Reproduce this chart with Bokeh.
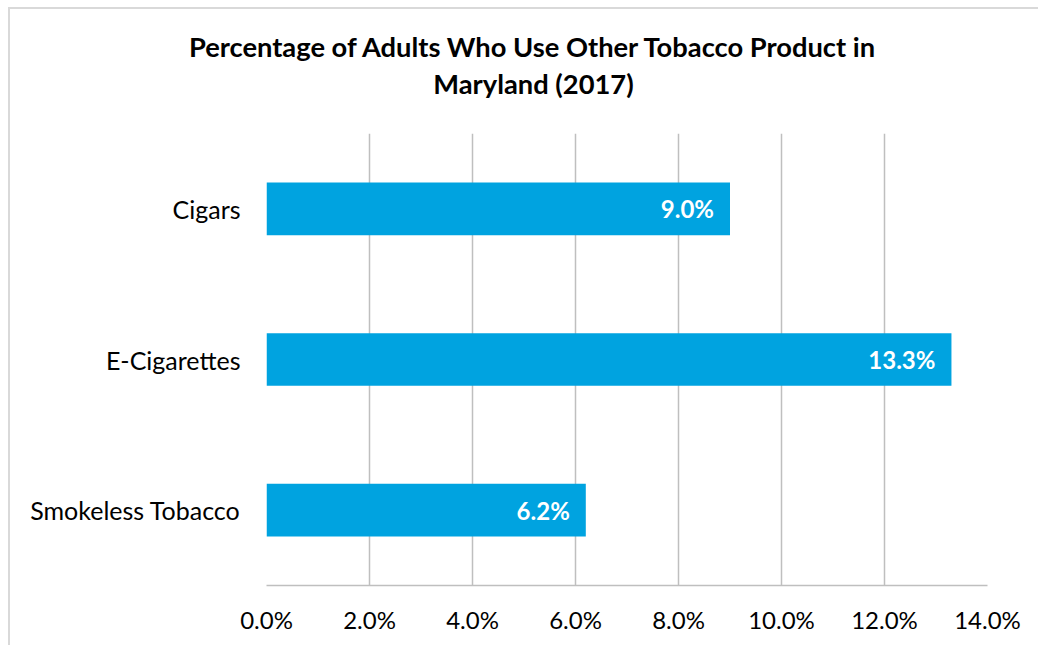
from bokeh.plotting import figure
from bokeh.layouts import column
from bokeh.models import ColumnDataSource, PrintfTickFormatter, FixedTicker, Range1d
from bokeh.core.properties import value
from bokeh.embed import file_html
from bokeh.resources import INLINE

categories = ["Smokeless Tobacco", "E-Cigarettes", "Cigars"]
percentages = [6.2, 13.3, 9.0]
labels = ["6.2%", "13.3%", "9.0%"]
x_ticks = [0, 2, 4, 6, 8, 10, 12, 14]
title_lines = ["Percentage of Adults Who Use Other Tobacco Product in", "Maryland (2017)"]

FONT = "Lato"
BAR = "#00A3E0"
GRID = "#BFBFBF"
W = 1028
TH = 124
ML, MR = 256, 51

# --- title strip (own full-width frame, not aligned to the chart's frame) ---
tf = figure(width=W, height=TH, x_range=Range1d(0, W), y_range=Range1d(TH, 0),
            output_backend="svg", toolbar_location=None,
            x_axis_location=None, y_axis_location=None,
            min_border_left=0, min_border_right=0, min_border_top=0, min_border_bottom=0)
tf.frame_align = False
tf.outline_line_color = None
tf.xgrid.visible = False
tf.ygrid.visible = False
tf.border_fill_color = "white"
tsrc = ColumnDataSource(dict(t=title_lines, x=[523, 523], y=[37, 74]))
tf.text(x="x", y="y", text="t", source=tsrc, text_align="center", text_baseline="middle",
        text_font=value(FONT), text_font_size="27.3px", text_font_style="bold", text_color="black")

# --- main chart ---
src = ColumnDataSource(dict(cat=categories, val=percentages, lab=labels))

p = figure(width=W, height=636 - TH, y_range=categories, x_range=Range1d(0, 14),
           output_backend="svg", toolbar_location=None,
           min_border_left=ML, min_border_right=MR, min_border_top=0, min_border_bottom=60)
p.frame_align = False

p.hbar(y="cat", right="val", left=0, height=0.35, source=src, color=BAR, line_color=None)
p.text(x="val", y="cat", text="lab", source=src, text_align="right", text_baseline="middle",
       x_offset=-16, text_color="white", text_font=value(FONT), text_font_style="bold",
       text_font_size="24px")

p.outline_line_color = None
p.background_fill_color = "white"
p.border_fill_color = "white"

p.xaxis.ticker = FixedTicker(ticks=x_ticks)
p.xaxis.formatter = PrintfTickFormatter(format="%.1f%%")
p.xaxis.axis_line_color = GRID
p.xaxis.axis_line_width = 1.5
p.xaxis.major_tick_line_color = None
p.xaxis.minor_tick_line_color = None
p.xaxis.major_label_text_font = FONT
p.xaxis.major_label_text_font_size = "24px"
p.xaxis.major_label_text_color = "black"
p.xaxis.major_label_standoff = 13

p.yaxis.axis_line_color = None
p.yaxis.major_tick_line_color = None
p.yaxis.minor_tick_line_color = None
p.yaxis.major_label_text_font = FONT
p.yaxis.major_label_text_font_size = "25px"
p.yaxis.major_label_text_color = "black"
p.yaxis.major_label_standoff = 20

p.xgrid.grid_line_color = GRID
p.xgrid.grid_line_width = 1.5
p.ygrid.grid_line_color = None

layout = column(tf, p, spacing=0)
layout.styles = {"margin-left": "8px", "margin-top": "7px",
                 "border-top": "2px solid #D9D9D9", "border-left": "2px solid #D9D9D9"}

open("out.html", "w").write(file_html(layout, INLINE))
